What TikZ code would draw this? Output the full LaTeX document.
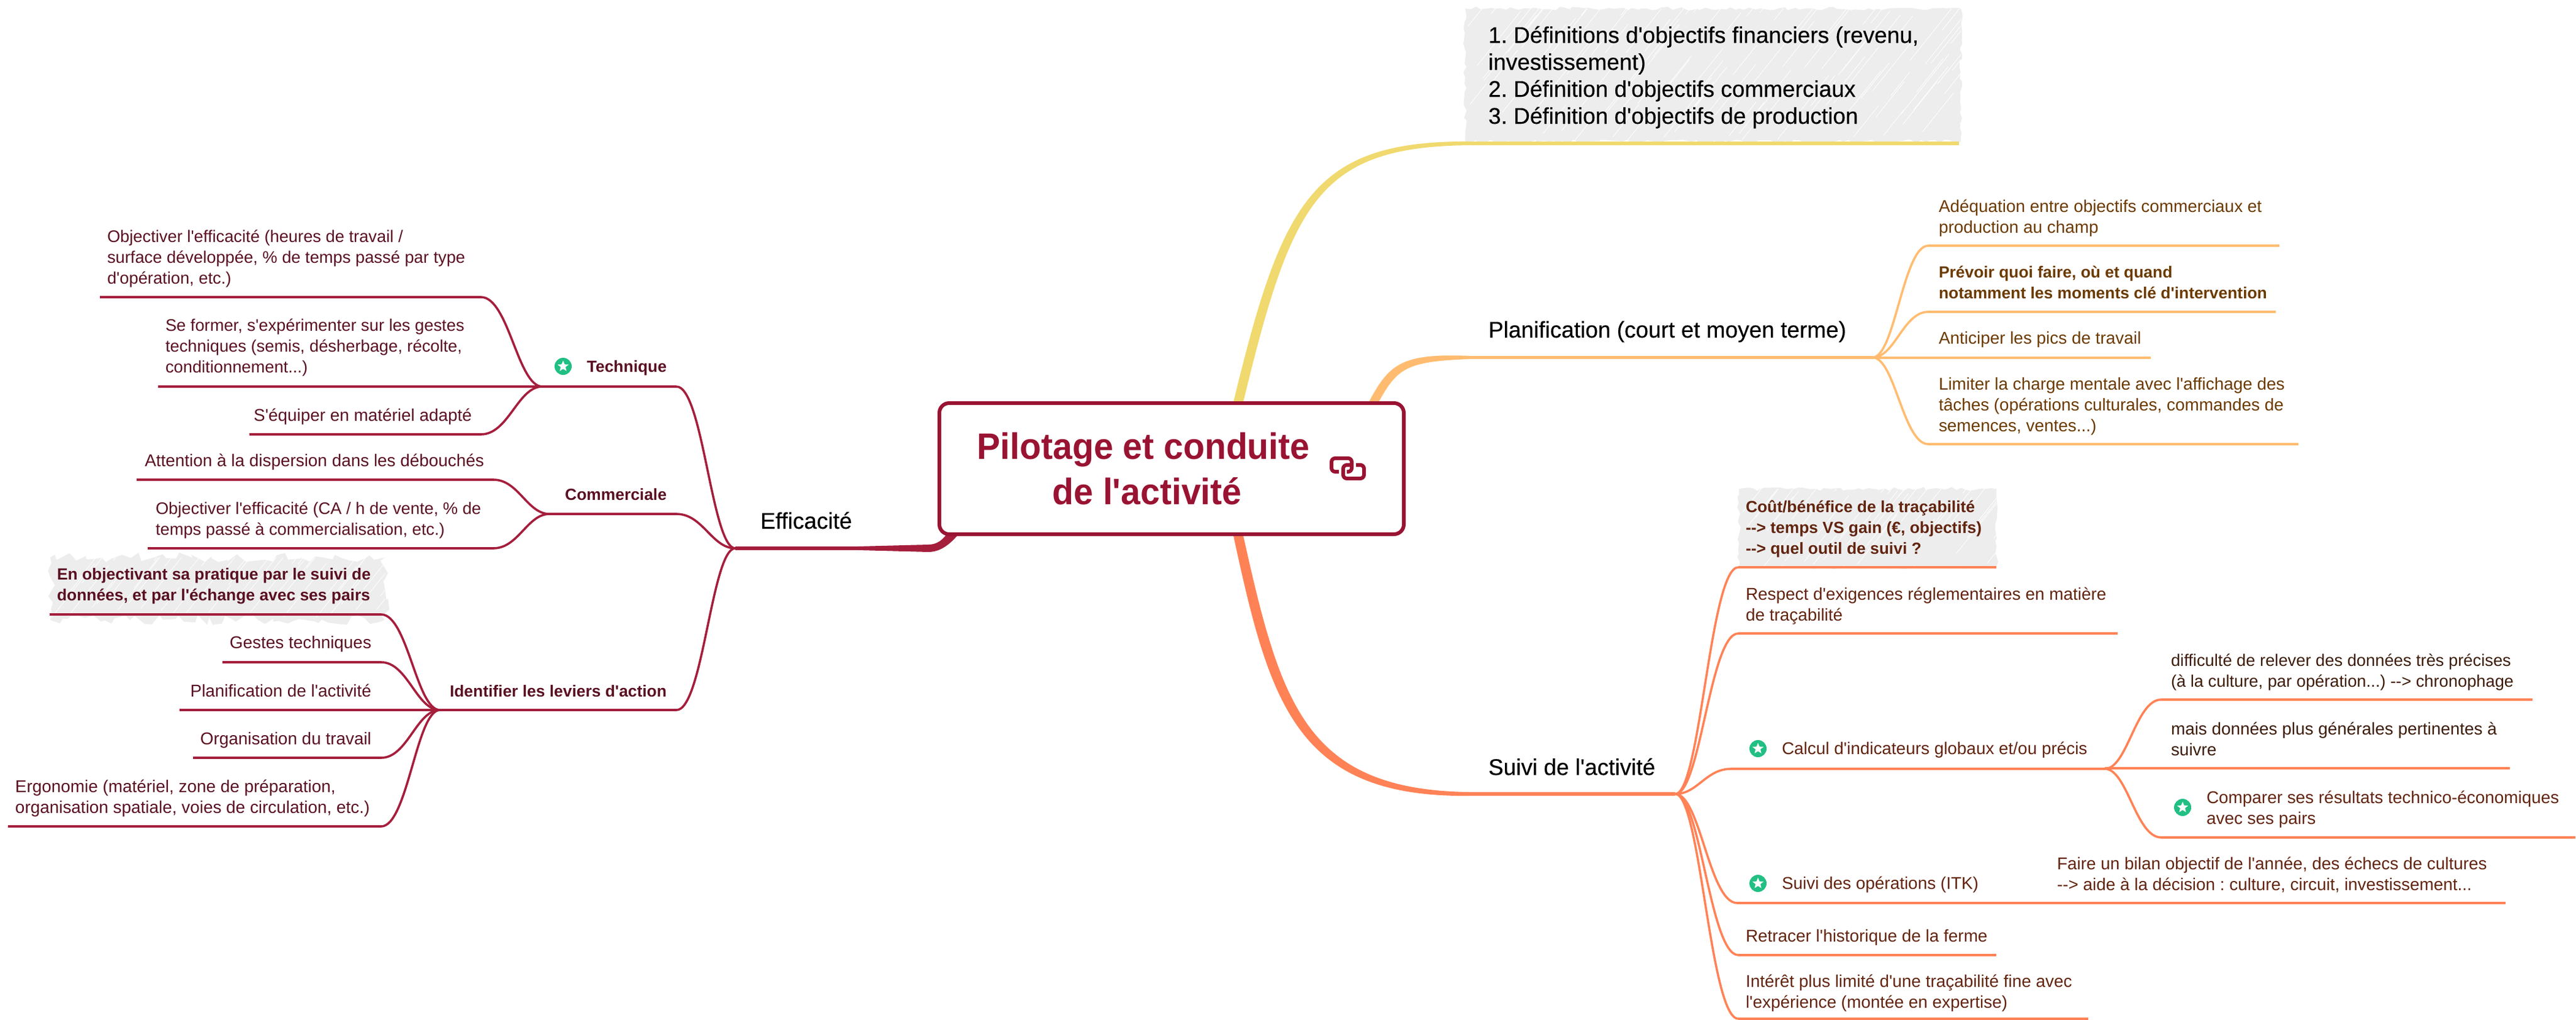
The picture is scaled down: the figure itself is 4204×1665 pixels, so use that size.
\documentclass[tikz,border=0pt]{standalone}
\usepackage{fontspec}
\setmainfont[Ligatures=TeXOff]{Liberation Sans}
\newfontface\titlefont[FakeStretch=0.953,Ligatures=TeXOff]{Liberation Sans Bold}
\newfontface\mainfont[FakeBold=0.25,Ligatures=TeXOff]{Liberation Sans}
\usetikzlibrary{calc,shapes.geometric,decorations.pathmorphing}
\definecolor{crim}{HTML}{A51E3C}
\definecolor{rootc}{HTML}{991332}
\definecolor{oran}{HTML}{FF8256}
\definecolor{lora}{HTML}{FFBC70}
\definecolor{yel}{HTML}{F0D96E}
\definecolor{txtl}{HTML}{5A1022}
\definecolor{txtp}{HTML}{6B3A00}
\definecolor{txto}{HTML}{62240F}
\definecolor{txtk}{HTML}{3D1C0A}
\definecolor{grn}{HTML}{21BF83}
\definecolor{hatch}{HTML}{EDEDED}
\tikzset{
  x=0.5pt,y=-0.5pt,
  leaf/.style={inner sep=0pt,outer sep=0pt,align=left,font=\frenchspacing\fontsize{13.95}{17}\selectfont},
  lw/.style={leaf,anchor=base west},
  le/.style={leaf,anchor=base east},
  narrow/.style={font=\frenchspacing\fontsize{13.65}{17}\selectfont},
  bold/.style={font=\frenchspacing\fontsize{13.2}{17}\selectfont\bfseries},
  mainlab/.style={inner sep=0pt,outer sep=0pt,align=left,anchor=base west,text=black,font=\frenchspacing\fontsize{18.5}{22}\mainfont},
  ulc/.style={line width=2pt,crim},
  ulp/.style={line width=2pt,lora},
  ulo/.style={line width=2pt,oran},
  cc/.style={line width=1.8pt,crim},
  cp/.style={line width=1.8pt,lora},
  co/.style={line width=1.8pt,oran},
  linkic/.style={rootc,line width=3pt,rounded corners=3pt}
}
\newcommand\ul[5]{\coordinate (#1-l) at (#2,#4);\coordinate (#1-r) at (#3,#4);\draw[#5] (#1-l) -- (#1-r);}
\newcommand\conn[3]{\draw[#1] let \p1=(#2),\p2=(#3) in (\p1) .. controls ({.6*\x1+.4*\x2},\y1) and ({.45*\x1+.55*\x2},\y2) .. (\p2);}
\newcommand\badge[3]{\node[circle,fill=grn,minimum size=14pt,inner sep=0pt,outer sep=0pt] (#1) at (#2,#3) {};
  \node[star,star points=5,star point ratio=2.3,fill=white,inner sep=0pt,minimum size=9.5pt] (#1s) at (#2,#3) {};}
\newcommand\rough[8]{% x1 y1 x2 y2 seed amp seg nlines
  \begin{scope}
  \pgfmathsetseed{#5}
  \fill[hatch,decorate,decoration={random steps,segment length=#7,amplitude=#6}] (#1,#2) rectangle (#3,#4);
  \clip (#1,#2) rectangle (#3,#4);
  \foreach \i in {0,...,#8}{
    \pgfmathsetmacro\xa{#1+(#3-#1)/#8*(\i+rnd)}
    \pgfmathsetmacro\ln{25+60*rnd}
    \pgfmathsetmacro\ya{#2+(#4-#2)*rnd}
    \draw[white,line width=0.4pt] (\xa,\ya) -- ++(\ln,-1.25*\ln);
  }
  \end{scope}}
\begin{document}
\begin{tikzpicture}
\useasboundingbox (0,0) rectangle (4204,1665);
% hatched boxes
\rough{2391}{14}{3200}{231}{3}{1.5pt}{4pt}{110}
\rough{2838}{798}{3258}{926}{5}{1.5pt}{4pt}{40}
\rough{82}{910}{628}{1012}{7}{4pt}{5pt}{45}
% main branches
\coordinate (yS) at (2020,660);\coordinate (yE) at (2400,234);
\fill[yel] ($(yS)+(-8,0)$) .. controls (2092,330) and (2140,229) .. ($(yE)+(0,-3)$) -- (3197,231) -- (3197,237) -- ($(yE)+(0,3)$) .. controls (2150,239) and (2108,330) .. ($(yS)+(8,0)$) -- cycle;
\coordinate (pS) at (2240,660);\coordinate (pE) at (2400,583.5);
\fill[lora] ($(pS)+(-8,0)$) .. controls (2266,595) and (2285,576) .. ($(pE)+(0,-2.5)$) -- ($(pE)+(0,2.5)$) .. controls (2295,590) and (2280,600) .. ($(pS)+(8,0)$) -- cycle;
\coordinate (oS) at (2020,870);\coordinate (oE) at (2400,1296);
\fill[oran] ($(oS)+(-8,0)$) .. controls (2072,1150) and (2115,1303) .. ($(oE)+(0,3)$) -- ($(oE)+(0,-3)$) .. controls (2130,1290) and (2090,1150) .. ($(oS)+(8,0)$) -- cycle;
\coordinate (eS) at (1556,870);\coordinate (eE) at (1400,895);
\fill[crim] ($(eS)+(-10,0)$) .. controls (1540,880) and (1530,889) .. (1515,889) -- ($(eE)+(0,-3)$) -- ($(eE)+(0,3)$) -- (1515,901) .. controls (1532,901) and (1548,892) .. ($(eS)+(10,0)$) -- cycle;
% hubs
\coordinate (hubE) at (1200,895);
\coordinate (hubT) at (885,631);
\coordinate (hubC) at (897,839);
\coordinate (hubI) at (718,1159);
\coordinate (hubP) at (3056,583.5);
\coordinate (hubS) at (2734,1296);
\coordinate (hubK) at (3435,1255);
% trunks
\draw[line width=3pt,crim] (hubE) -- (eE);
\draw[line width=2.5pt,lora] (pE) -- (hubP);
\draw[line width=3pt,oran] (oE) -- (hubS);
% left level 2
\ul{tec}{1104}{885}{631}{ulc}
\ul{com}{1104}{897}{839}{ulc}
\ul{ide}{1104}{718}{1159}{ulc}
\conn{cc}{hubE}{tec-l}
\conn{cc}{hubE}{com-l}
\conn{cc}{hubE}{ide-l}
% Technique leaves
\ul{t1}{163}{785}{485}{ulc}
\ul{t2}{258}{885}{631}{ulc}
\ul{t3}{407}{785}{709}{ulc}
\conn{cc}{hubT}{t1-r}
\conn{cc}{hubT}{t3-r}
% Commerciale leaves
\ul{c1}{223}{805}{783}{ulc}
\ul{c2}{241}{805}{895}{ulc}
\conn{cc}{hubC}{c1-r}
\conn{cc}{hubC}{c2-r}
% Identifier leaves
\ul{i1}{81}{622}{1003}{ulc}
\ul{i2}{363}{622}{1081}{ulc}
\ul{i3}{293}{718}{1159}{ulc}
\ul{i4}{315}{622}{1237}{ulc}
\ul{i5}{13}{622}{1349}{ulc}
\conn{cc}{hubI}{i1-r}
\conn{cc}{hubI}{i2-r}
\conn{cc}{hubI}{i4-r}
\conn{cc}{hubI}{i5-r}
% Planification
\ul{p1}{3147}{3720}{401}{ulp}
\ul{p2}{3147}{3714}{509}{ulp}
\ul{p3}{3056}{3510}{583.5}{ulp}
\ul{p4}{3147}{3751}{725}{ulp}
\conn{cp}{hubP}{p1-l}
\conn{cp}{hubP}{p2-l}
\conn{cp}{hubP}{p4-l}
% Suivi
\ul{s1}{2837}{3258}{926}{ulo}
\ul{s2}{2837}{3456}{1034}{ulo}
\ul{s3}{2825}{3435}{1255}{ulo}
\ul{s4}{2835}{4089}{1474}{ulo}
\ul{s5}{2837}{3258}{1559}{ulo}
\ul{s6}{2837}{3408}{1663}{ulo}
\conn{co}{hubS}{s1-l}
\conn{co}{hubS}{s2-l}
\conn{co}{hubS}{s3-l}
\conn{co}{hubS}{s4-l}
\conn{co}{hubS}{s5-l}
\conn{co}{hubS}{s6-l}
\ul{k1}{3527}{4133}{1142}{ulo}
\ul{k2}{3435}{4096}{1254}{ulo}
\ul{k3}{3527}{4203}{1367}{ulo}
\conn{co}{hubK}{k1-l}
\conn{co}{hubK}{k3-l}
% root
\node[draw=rootc,line width=3pt,fill=white,rounded corners=8pt,minimum width=379pt,minimum height=107pt,inner sep=0pt] (root) at (1912,765) {};
\node[inner sep=0pt,anchor=base,align=center,text=rootc,font=\fontsize{30}{37}\titlefont] (rootlab) at (1866,823) {Pilotage et conduite\\\hspace*{6pt}de l'activité};
\draw[linkic] (2185,770) -- (2173,770) -- (2173,748) -- (2206,748) -- (2206,770) -- (2198,770);
\draw[linkic] (2204,759) -- (2192,759) -- (2192,781) -- (2226,781) -- (2226,759) -- (2213,759);
% level 1 labels
\node[mainlab] (m1) at (2429,202) {1. Définitions d'objectifs financiers (revenu,\\investissement)\\2. Définition d'objectifs commerciaux\\3. Définition d'objectifs de production};
\node[mainlab] (m2) at (2429,551) {Planification (court et moyen terme)};
\node[mainlab] (m3) at (2429,1265) {Suivi de l'activité};
\node[mainlab] (m4) at (1241,863) {Efficacité};
% left labels
\badge{bt}{919}{598}
\node[le,bold,text=txtl] (ltec) at (1088,607) {Technique};
\node[le,bold,text=txtl] (lcom) at (1088,816) {Commerciale};
\node[le,bold,text=txtl] (lide) at (1088,1137) {Identifier les leviers d'action};
\node[lw,narrow,text=txtl] (lt1) at (175,463) {Objectiver l'efficacité (heures de travail /\\surface développée, \% de temps passé par type\\d'opération, etc.)};
\node[lw,narrow,text=txtl] (lt2) at (270,608) {Se former, s'expérimenter sur les gestes\\techniques (semis, désherbage, récolte,\\conditionnement...)};
\node[le,text=txtl] (lt3) at (770,687) {S'équiper en matériel adapté};
\node[le,text=txtl] (lc1) at (790,761) {Attention à la dispersion dans les débouchés};
\node[lw,narrow,text=txtl] (lc2) at (254,873) {Objectiver l'efficacité (CA / h de vente, \% de\\temps passé à commercialisation, etc.)};
\node[lw,bold,text=txtl] (li1) at (93,980) {En objectivant sa pratique par le suivi de\\données, et par l'échange avec ses pairs};
\node[le,text=txtl] (li2) at (606,1058) {Gestes techniques};
\node[le,text=txtl] (li3) at (606,1137) {Planification de l'activité};
\node[le,text=txtl] (li4) at (606,1215) {Organisation du travail};
\node[lw,text=txtl] (li5) at (25,1327) {Ergonomie (matériel, zone de préparation,\\organisation spatiale, voies de circulation, etc.)};
% planif labels
\node[lw,text=txtp] (lp1) at (3164,380) {Adéquation entre objectifs commerciaux et\\production au champ};
\node[lw,bold,text=txtp] (lp2) at (3164,487) {Prévoir quoi faire, où et quand\\notamment les moments clé d'intervention};
\node[lw,text=txtp] (lp3) at (3164,561) {Anticiper les pics de travail};
\node[lw,text=txtp] (lp4) at (3164,704) {Limiter la charge mentale avec l'affichage des\\tâches (opérations culturales, commandes de\\semences, ventes...)};
% suivi labels
\node[lw,bold,text=txto] (ls1) at (2849,904) {Coût/bénéfice de la traçabilité\\-{}-> temps VS gain (€, objectifs)\\-{}-> quel outil de suivi ?};
\node[lw,text=txto] (ls2) at (2849,1013) {Respect d'exigences réglementaires en matière\\de traçabilité};
\badge{bs3}{2869}{1222}
\node[lw,text=txto] (ls3) at (2908,1231) {Calcul d'indicateurs globaux et/ou précis};
\node[lw,narrow,text=txtk] (lk1) at (3543,1121) {difficulté de relever des données très précises\\(à la culture, par opération...) -{}-> chronophage};
\node[lw,text=txtk] (lk2) at (3543,1233) {mais données plus générales pertinentes à\\suivre};
\badge{bk3}{3562}{1318}
\node[lw,text=txto] (lk3) at (3601,1345) {Comparer ses résultats technico-économiques\\avec ses pairs};
\badge{bs4}{2869}{1442}
\node[lw,text=txto] (ls4) at (2908,1451) {Suivi des opérations (ITK)};
\node[lw,text=txto] (ls4b) at (3357,1453) {Faire un bilan objectif de l'année, des échecs de cultures\\-{}-> aide à la décision : culture, circuit, investissement...};
\node[lw,text=txto] (ls5) at (2849,1537) {Retracer l'historique de la ferme};
\node[lw,text=txto] (ls6) at (2849,1645) {Intérêt plus limité d'une traçabilité fine avec\\l'expérience (montée en expertise)};
\end{tikzpicture}
\end{document}
